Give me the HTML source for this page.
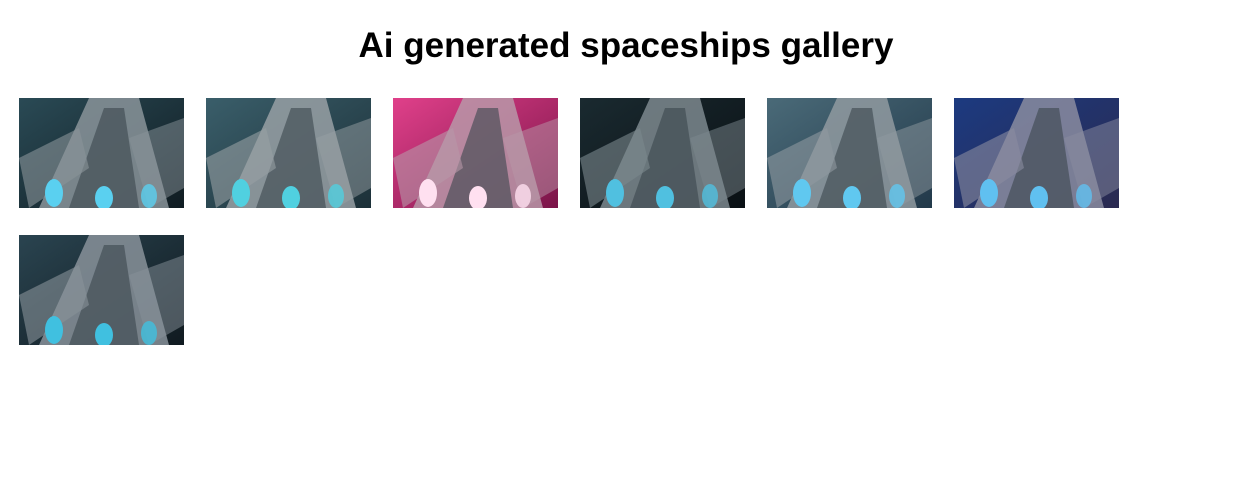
<!DOCTYPE html>
<html><head><meta charset="utf-8"><style>
body{margin:0;width:1250px;height:501px;background:#fff;font-family:"Liberation Sans",sans-serif;overflow:hidden;position:relative}
h1{position:absolute;top:25px;left:0;width:1252px;margin:0;text-align:center;font-size:35px;font-weight:bold;color:#000;line-height:42px}
.t{position:absolute;width:165px;height:110px;display:block}
</style></head><body>
<h1>Ai generated spaceships gallery</h1>
<div id="g"></div>
<script>
const bgs=[["#2a4a55","#101c22"],["#3a5e6a","#1c3038"],["#e0408a","#7a1448"],["#1a2a30","#0a1014"],["#4a6a78","#22394a"],["#1c3a80","#2a2a50"],["#2a4450","#101a20"]];
const hull=["#8a949a","#98a0a4","#b898a8","#7c888e","#909aa0","#8a8ca0","#88929a"];
const glow=["#5ad0f0","#50d0e0","#ffe0f0","#50c0e0","#60c8f0","#60c0f0","#40c0e0"];
const g=document.getElementById('g');
bgs.forEach((b,i)=>{
 const x=19+(i%6)*187,y=98+Math.floor(i/6)*137;
 const d=document.createElement('div');
 d.className='t';d.style.left=x+'px';d.style.top=y+'px';
 
 
 d.innerHTML=`<svg width="165" height="110"><defs><linearGradient id="b${i}" x1="0" y1="0" x2="1" y2="1"><stop offset="0" stop-color="${b[0]}"/><stop offset="1" stop-color="${b[1]}"/></linearGradient></defs>
<rect width="165" height="110" fill="url(#b${i})"/>
<polygon points="20,110 70,0 120,0 150,110" fill="${hull[i]}" opacity="0.85"/>
<polygon points="50,110 85,10 105,10 120,110" fill="#3a464c" opacity="0.6"/>
<polygon points="0,60 60,30 70,70 10,110" fill="${hull[i]}" opacity="0.6"/>
<polygon points="110,40 165,20 165,90 130,110" fill="${hull[i]}" opacity="0.5"/>
<ellipse cx="35" cy="95" rx="9" ry="14" fill="${glow[i]}"/>
<ellipse cx="85" cy="100" rx="9" ry="12" fill="${glow[i]}"/>
<ellipse cx="130" cy="98" rx="8" ry="12" fill="${glow[i]}" opacity="0.8"/></svg>`;
 g.appendChild(d);
});
</script>
</body></html>
